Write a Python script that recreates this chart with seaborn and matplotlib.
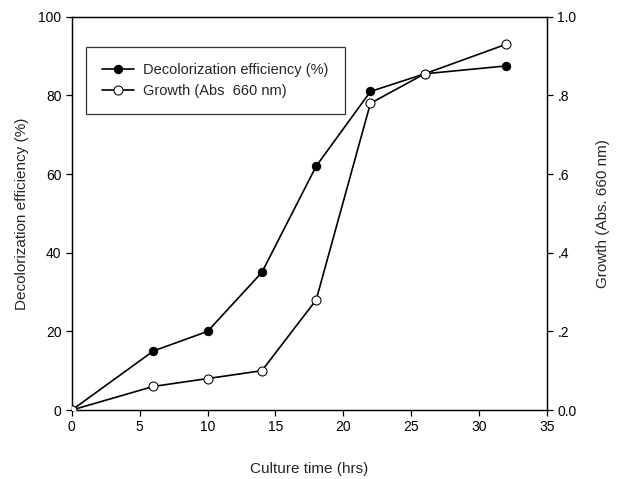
import pandas as pd
import matplotlib
matplotlib.use('Agg')
import matplotlib.pyplot as plt
import seaborn as sns

# values
time_decol = [0, 6, 10, 14, 18, 22, 26, 32]
decolorization = [0, 15, 20, 35, 62, 81, 85.5, 87.5]
time_growth = [0, 6, 10, 14, 18, 22, 26, 32]
growth = [0, 0.06, 0.08, 0.10, 0.28, 0.78, 0.855, 0.93]

x_ticks = [0, 5, 10, 15, 20, 25, 30, 35]
left_ticks = [0, 20, 40, 60, 80, 100]
right_ticks = [0.0, 0.2, 0.4, 0.6, 0.8, 1.0]
right_labels = ['0.0', '.2', '.4', '.6', '.8', '1.0']

df_decol = pd.DataFrame({'time': time_decol, 'value': decolorization})
df_growth = pd.DataFrame({'time': time_growth, 'value': growth})

sns.set_style('ticks')
plt.rcParams['font.family'] = ['Liberation Sans', 'DejaVu Sans']

fig = plt.figure(figsize=(6.25, 4.79), dpi=100)
ax = fig.add_axes([0.115, 0.144, 0.76, 0.821])
ax2 = ax.twinx()

sns.lineplot(data=df_decol, x='time', y='value', ax=ax, color='black', lw=1.2,
             marker='o', markersize=6, markerfacecolor='black', markeredgecolor='black',
             label='Decolorization efficiency (%)', legend=False, zorder=3)
sns.lineplot(data=df_growth, x='time', y='value', ax=ax2, color='black', lw=1.2,
             marker='o', markersize=6.5, markerfacecolor='white', markeredgecolor='black',
             label='Growth (Abs  660 nm)', legend=False, zorder=4)

ax.set_xlim(0, 35)
ax.set_ylim(0, 100)
ax2.set_ylim(0, 1.0)
ax.set_xticks(x_ticks)
ax.set_yticks(left_ticks)
ax2.set_yticks(right_ticks)
ax2.set_yticklabels(right_labels)

ax.set_xlabel('Culture time (hrs)', fontsize=11, labelpad=20)
ax.set_ylabel('Decolorization efficiency (%)', fontsize=11, labelpad=7)
ax2.set_ylabel('Growth (Abs. 660 nm)', fontsize=11, labelpad=14)

for a in (ax, ax2):
    a.tick_params(labelsize=10, length=4, width=0.9, direction='out', colors='black')
    for s in a.spines.values():
        s.set_visible(True)
        s.set_linewidth(0.9)
        s.set_color('black')

h1, l1 = ax.get_legend_handles_labels()
h2, l2 = ax2.get_legend_handles_labels()
leg = ax2.legend(h1 + h2, l1 + l2, loc='upper left', bbox_to_anchor=(0.015, 0.942),
                 frameon=True, fancybox=False, edgecolor='black', fontsize=10.5,
                 handlelength=2.2, borderpad=1.1, labelspacing=0.5, handletextpad=0.6)
leg.get_frame().set_linewidth(0.9)

fig.savefig('out.png', dpi=100)
